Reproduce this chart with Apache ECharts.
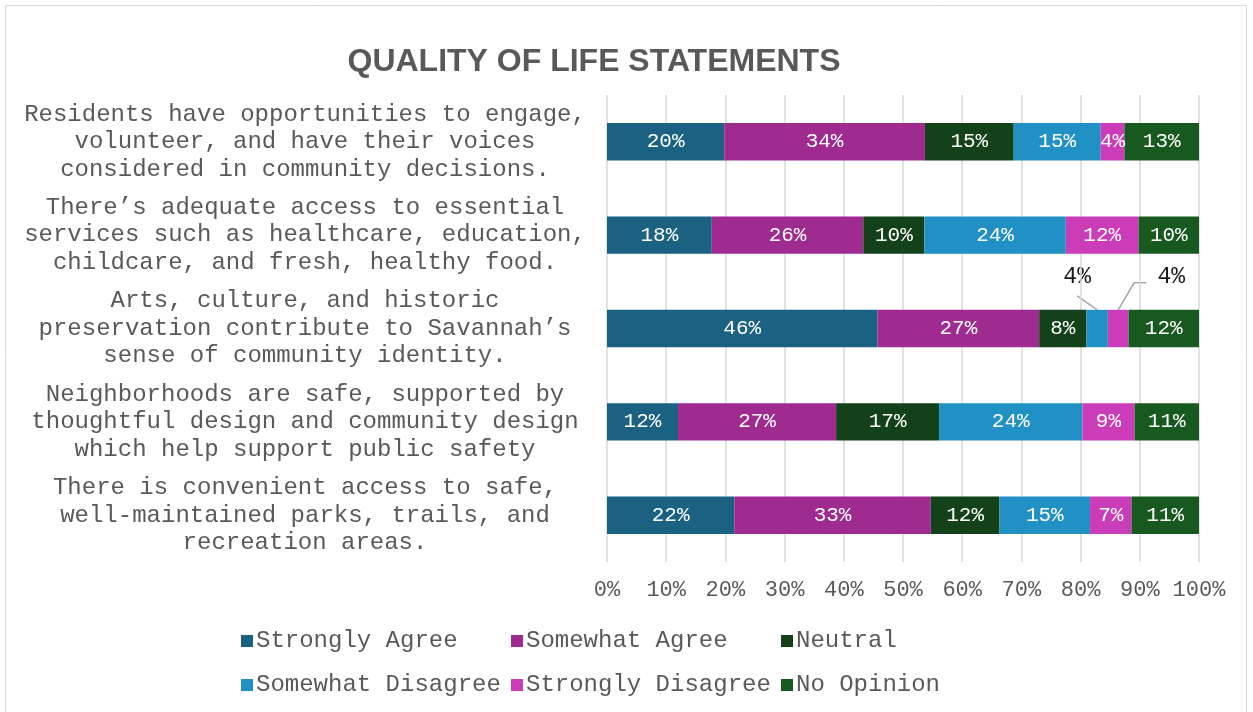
<!DOCTYPE html>
<html>
<head>
<meta charset="utf-8">
<script src="https://cdn.jsdelivr.net/npm/echarts@6/dist/echarts.min.js"></script>
<style>
  html, body { margin: 0; padding: 0; background: #fff; }
  #chart { width: 1253px; height: 712px; }
</style>
</head>
<body>
<div id="chart"></div>
<script>
// Survey statements (top to bottom)
const statements = [
  'Residents have opportunities to engage,\nvolunteer, and have their voices\nconsidered in community decisions.',
  'There\u2019s adequate access to essential\nservices such as healthcare, education,\nchildcare, and fresh, healthy food.',
  'Arts, culture, and historic\npreservation contribute to Savannah\u2019s\nsense of community identity.',
  'Neighborhoods are safe, supported by\nthoughtful design and community design\nwhich help support public safety',
  'There is convenient access to safe,\nwell-maintained parks, trails, and\nrecreation areas.'
];

// Response shares (%) per statement, same order as above
const stronglyAgree     = [19.8, 17.7, 45.7, 12.0, 21.5];
const somewhatAgree     = [33.9, 25.6, 27.3, 26.7, 33.2];
const neutral           = [15.0, 10.3,  8.0, 17.4, 11.6];
const somewhatDisagree  = [14.7, 23.9,  3.6, 24.2, 15.3];
const stronglyDisagree  = [ 4.0, 12.3,  3.5,  8.8,  7.0];
const noOpinion         = [12.6, 10.2, 11.9, 10.9, 11.4];

const responseNames = ['Strongly Agree', 'Somewhat Agree', 'Neutral',
                       'Somewhat Disagree', 'Strongly Disagree', 'No Opinion'];
const responseValues = [stronglyAgree, somewhatAgree, neutral,
                        somewhatDisagree, stronglyDisagree, noOpinion];
const responseColors = ['#1a6182', '#a02b90', '#12411a', '#2190c4', '#cb3db8', '#18591f'];

const MONO = '"Liberation Mono", "Courier New", monospace';
const BAR_RATIO = 0.4;   // bar thickness as a share of the category band

// Segments too narrow for an inside label: callout placement relative to the
// segment's top-centre (label centre offset and leader-line bend points)
const callouts = [
  { series: 3, row: 2, label: [-20, -33], line: [[-20, -14]] },
  { series: 4, row: 2, label: [53, -33], line: [[16, -27], [28, -27]] }
];
const isCallout = (si, di) => callouts.some(c => c.series === si && c.row === di);

const pct = v => Math.round(v) + '%';

const series = responseNames.map((name, si) => ({
  name: name,
  type: 'bar',
  stack: 'total',
  barCategoryGap: (100 - BAR_RATIO * 100) + '%',
  itemStyle: { color: responseColors[si] },
  data: responseValues[si].map((v, di) =>
    isCallout(si, di) ? { value: v, label: { show: false } } : v),
  label: {
    show: true,
    position: 'inside',
    color: '#ffffff',
    fontFamily: MONO,
    fontSize: 21,
    formatter: p => pct(p.value)
  },
  emphasis: { disabled: true }
}));

// One legend block per response so each entry sits on a fixed 270px column
const legendCols = [236, 506, 776];
const legends = responseNames.map((name, i) => ({
  data: [name],
  left: legendCols[i % 3],
  top: i < 3 ? 624 : 668,
  itemWidth: 12, itemHeight: 12,
  icon: 'rect',
  textStyle: { fontFamily: MONO, fontSize: 24, color: '#595959', padding: [0, 0, 0, -2] }
}));

const chart = echarts.init(document.getElementById('chart'), null, { renderer: 'canvas' });
chart.setOption({
  backgroundColor: '#ffffff',
  animation: false,
  title: {
    text: 'QUALITY OF LIFE STATEMENTS',
    left: 589,
    top: 41,
    textAlign: 'center',
    textStyle: {
      fontFamily: '"Liberation Sans", Arial, sans-serif',
      fontWeight: 'bold',
      fontSize: 32,
      color: '#595959'
    }
  },
  graphic: [{
    id: 'frame',
    type: 'rect',
    shape: { x: 5.5, y: 5.5, width: 1241, height: 720 },
    style: { fill: 'none', stroke: '#d9d9d9', lineWidth: 1 },
    silent: true
  }],
  legend: legends,
  grid: { left: 607, right: 54, top: 95, bottom: 150, containLabel: false },
  xAxis: {
    type: 'value',
    min: 0, max: 100, interval: 10,
    axisLine: { show: false },
    axisTick: { show: false },
    splitLine: { show: true, lineStyle: { color: '#d9d9d9', width: 1.5 } },
    axisLabel: {
      formatter: '{value}%',
      margin: 17,
      color: '#595959',
      fontFamily: MONO,
      fontSize: 22
    }
  },
  yAxis: {
    type: 'category',
    inverse: true,
    data: statements,
    axisLine: { show: false },
    axisTick: { show: false },
    axisLabel: {
      align: 'center',
      margin: 302,
      color: '#595959',
      fontFamily: MONO,
      fontSize: 24,
      lineHeight: 27.5
    }
  },
  series: series
});

// Callout labels with leader lines, positioned through the chart's own scales
const calloutGraphics = [];
callouts.forEach((c, k) => {
  let start = 0;
  for (let s = 0; s < c.series; s++) start += responseValues[s][c.row];
  const value = responseValues[c.series][c.row];
  const cx = chart.convertToPixel({ xAxisIndex: 0 }, start + value / 2);
  const cy = chart.convertToPixel({ yAxisIndex: 0 }, c.row);
  const band = Math.abs(chart.convertToPixel({ yAxisIndex: 0 }, 1) -
                        chart.convertToPixel({ yAxisIndex: 0 }, 0));
  const top = cy - band * BAR_RATIO / 2;
  const pts = [[cx, top]].concat(c.line.map(p => [cx + p[0], top + p[1]]));
  calloutGraphics.push({
    id: 'callout-line-' + k,
    type: 'polyline',
    shape: { points: pts },
    style: { stroke: '#a6a6a6', lineWidth: 1.5, fill: null },
    silent: true
  });
  calloutGraphics.push({
    id: 'callout-text-' + k,
    type: 'text',
    x: cx + c.label[0],
    y: top + c.label[1],
    style: {
      text: pct(value),
      fill: '#1a1a1a',
      font: '23px ' + MONO,
      align: 'center',
      verticalAlign: 'middle'
    },
    silent: true
  });
});
chart.setOption({ graphic: calloutGraphics });
</script>
</body>
</html>
